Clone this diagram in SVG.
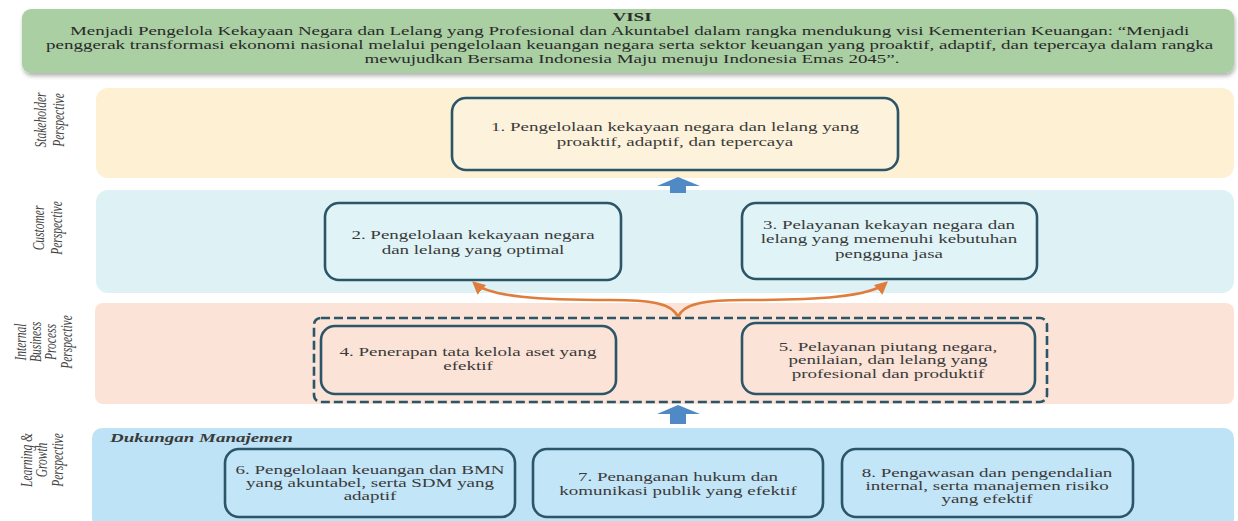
<svg xmlns="http://www.w3.org/2000/svg" width="1238" height="521" viewBox="0 0 1238 521">
<defs>
<filter id="sh" x="-5%" y="-20%" width="110%" height="150%">
<feDropShadow dx="1" dy="3" stdDeviation="2" flood-color="#000" flood-opacity="0.3"/>
</filter>
<marker id="oa" viewBox="0 0 10 10" refX="8" refY="5" markerWidth="5" markerHeight="5" orient="auto-start-reverse">
<path d="M0,0 L10,5 L0,10 z" fill="#e07d3c"/>
</marker>
<style>
.t{font-family:"Liberation Serif","Times New Roman",serif;font-size:13px;fill:#3a3a3a;text-anchor:middle}
.v{font-family:"Liberation Serif","Times New Roman",serif;font-size:13px;fill:#2a2a2a;text-anchor:middle}
.lab{font-family:"Liberation Serif","Times New Roman",serif;font-size:11.5px;font-style:italic;fill:#444;text-anchor:middle}
.box{stroke:#2b5669;stroke-width:2.6}
.band{stroke:none}
.blue{fill:#4f89c6}
.oc{fill:none;stroke:#e07d3c;stroke-width:2.6}
</style>
</defs>
<rect width="1238" height="521" fill="#fff"/>

<g id="visi">
<rect x="22" y="9" width="1212" height="64" rx="9" fill="#a9cfa3" filter="url(#sh)"/>
<text class="v" font-weight="bold" transform="translate(632,0) scale(1.46,1)"><tspan x="0" y="21">VISI</tspan></text>
<text class="v" transform="translate(632,0) scale(1.46,1)">
<tspan x="0" y="35">Menjadi Pengelola Kekayaan Negara dan Lelang yang Profesional dan Akuntabel dalam rangka mendukung visi Kementerian Keuangan: “Menjadi</tspan>
<tspan x="0" y="49">penggerak transformasi ekonomi nasional melalui pengelolaan keuangan negara serta sektor keuangan yang proaktif, adaptif, dan tepercaya dalam rangka</tspan>
<tspan x="0" y="63">mewujudkan Bersama Indonesia Maju menuju Indonesia Emas 2045”.</tspan>
</text>
</g>

<g id="band-stakeholder">
<rect class="band" x="96" y="88" width="1138" height="90" rx="12" fill="#fdf0d3"/>
<text class="lab" transform="translate(50,120) scale(1.4,1) rotate(-90)"><tspan x="0" y="-3">Stakeholder</tspan><tspan x="0" y="10">Perspective</tspan></text>
</g>
<g id="band-customer">
<rect class="band" x="96" y="190" width="1138" height="103" rx="12" fill="#def2f5"/>
<text class="lab" transform="translate(48,228) scale(1.4,1) rotate(-90)"><tspan x="0" y="-3">Customer</tspan><tspan x="0" y="10">Perspective</tspan></text>
</g>
<g id="band-internal">
<rect class="band" x="95" y="303" width="1139" height="101" rx="8" fill="#fbe3d7"/>
<text class="lab" transform="translate(48,342) scale(1.4,1) rotate(-90)"><tspan x="0" y="-16">Internal</tspan><tspan x="0" y="-5">Business</tspan><tspan x="0" y="6">Process</tspan><tspan x="0" y="17">Perspective</tspan></text>
</g>
<g id="band-learning">
<rect class="band" x="92" y="428" width="1142" height="100" rx="10" fill="#bee3f6"/>
<text class="lab" transform="translate(46,460) scale(1.4,1) rotate(-90)"><tspan x="0" y="-10">Learning &amp;</tspan><tspan x="0" y="1">Growth</tspan><tspan x="0" y="12">Perspective</tspan></text>
<text class="t" font-weight="bold" font-style="italic" transform="translate(110,0) scale(1.46,1)" style="text-anchor:start"><tspan x="0" y="442">Dukungan Manajemen</tspan></text>
</g>

<g id="n1">
<rect class="box" x="452" y="98" width="446" height="72" rx="14" fill="#fdf2dc"/>
<text class="t" transform="translate(675,0) scale(1.46,1)"><tspan x="0" y="131">1. Pengelolaan kekayaan negara dan lelang yang</tspan><tspan x="0" y="146">proaktif, adaptif, dan tepercaya</tspan></text>
</g>
<g id="n2">
<rect class="box" x="325" y="203" width="296" height="77" rx="14" fill="#e0f4f7"/>
<text class="t" transform="translate(473,0) scale(1.46,1)"><tspan x="0" y="239">2. Pengelolaan kekayaan negara</tspan><tspan x="0" y="254">dan lelang yang optimal</tspan></text>
</g>
<g id="n3">
<rect class="box" x="742" y="203" width="295" height="76" rx="14" fill="#e0f4f7"/>
<text class="t" transform="translate(889,0) scale(1.46,1)"><tspan x="0" y="229">3. Pelayanan kekayan negara dan</tspan><tspan x="0" y="243.5">lelang yang memenuhi kebutuhan</tspan><tspan x="0" y="258">pengguna jasa</tspan></text>
</g>
<g id="group-internal">
<rect x="314" y="318" width="733" height="84" rx="7" fill="none" stroke="#2b5669" stroke-width="2.6" stroke-dasharray="9 4"/>
</g>
<g id="n4">
<rect class="box" x="321" y="326" width="295" height="68" rx="14" fill="#fbe3d7"/>
<text class="t" transform="translate(468,0) scale(1.46,1)"><tspan x="0" y="356">4. Penerapan tata kelola aset yang</tspan><tspan x="0" y="370.5">efektif</tspan></text>
</g>
<g id="n5">
<rect class="box" x="742" y="323" width="293" height="71" rx="14" fill="#fbe3d7"/>
<text class="t" transform="translate(888,0) scale(1.46,1)"><tspan x="0" y="351">5. Pelayanan piutang negara,</tspan><tspan x="0" y="364.5">penilaian, dan lelang yang</tspan><tspan x="0" y="378">profesional dan produktif</tspan></text>
</g>
<g id="n6">
<rect class="box" x="225" y="449" width="290" height="68" rx="14" fill="#c2e5f7"/>
<text class="t" transform="translate(370,0) scale(1.46,1)"><tspan x="0" y="474">6. Pengelolaan keuangan dan BMN</tspan><tspan x="0" y="487">yang akuntabel, serta SDM yang</tspan><tspan x="0" y="500">adaptif</tspan></text>
</g>
<g id="n7">
<rect class="box" x="533" y="449" width="290" height="68" rx="14" fill="#c2e5f7"/>
<text class="t" transform="translate(678,0) scale(1.46,1)"><tspan x="0" y="481">7. Penanganan hukum dan</tspan><tspan x="0" y="495">komunikasi publik yang efektif</tspan></text>
</g>
<g id="n8">
<rect class="box" x="842" y="449" width="291" height="68" rx="14" fill="#c2e5f7"/>
<text class="t" transform="translate(987,0) scale(1.46,1)"><tspan x="0" y="477">8. Pengawasan dan pengendalian</tspan><tspan x="0" y="490.5">internal, serta manajemen risiko</tspan><tspan x="0" y="503">yang efektif</tspan></text>
</g>

<g id="connectors">
<path class="blue" d="M657,186 L678,177 L700,186 L686,186 L686,193 L670,193 L670,186 Z"/>
<path class="blue" d="M657,414 L678,405 L700,414 L686,414 L686,424 L670,424 L670,414 Z"/>
<path class="oc" d="M678,317 C672,303 650,300 610,300 C540,300 490,297 474,283" marker-end="url(#oa)"/>
<path class="oc" d="M678,317 C684,303 706,300 746,300 C816,300 870,297 886,283" marker-end="url(#oa)"/>
</g>
</svg>
